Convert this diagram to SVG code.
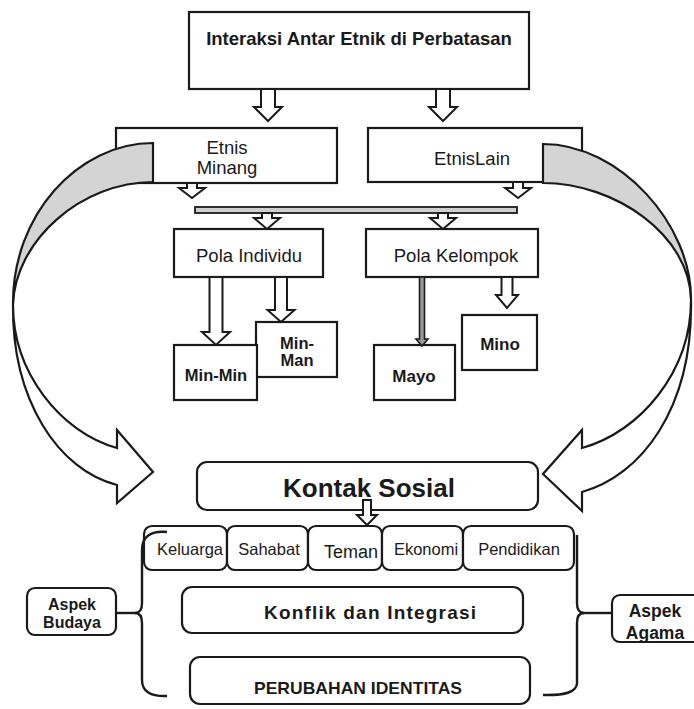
<svg xmlns="http://www.w3.org/2000/svg" width="694" height="709" viewBox="0 0 694 709">
  <style>
    .box { fill: #ffffff; stroke: #1a1a1a; stroke-width: 2.2; }
    .rbox { fill: #ffffff; stroke: #1a1a1a; stroke-width: 2.2; }
    .arr { fill: #ffffff; stroke: #1a1a1a; stroke-width: 2; stroke-linejoin: miter; }
    .thin { fill: #999999; stroke: #1a1a1a; stroke-width: 1.6; }
    .band { fill: #d4d4d4; stroke: #1a1a1a; stroke-width: 2.2; }
    .ribbon { fill: #ffffff; stroke: #1a1a1a; stroke-width: 2.2; stroke-linejoin: miter; }
    .brace { fill: none; stroke: #1a1a1a; stroke-width: 2.4; }
    text { font-family: "Liberation Sans", Arial, sans-serif; fill: #1a1a1a; text-anchor: middle; }
    .t { font-size: 18.5px; }
    .b { font-weight: bold; }
    .tab { font-size: 16.5px; }
  </style>

  <rect width="694" height="709" fill="#ffffff"/>

  <!-- top level -->
  <g id="interaksi">
    <rect class="box" x="189" y="12" width="340" height="77"/>
    <text class="t b" x="359" y="45">Interaksi Antar Etnik di Perbatasan</text>
  </g>

  <g id="etnis-minang">
    <rect class="box" x="116" y="128" width="221" height="55"/>
    <text class="t" x="227" y="154">Etnis</text>
    <text class="t" x="227" y="174">Minang</text>
  </g>

  <g id="etnis-lain">
    <rect class="box" x="368" y="128" width="214" height="54"/>
    <text class="t" x="472" y="165">EtnisLain</text>
  </g>

  <g id="pola-individu">
    <rect class="box" x="174" y="229" width="149" height="48"/>
    <text class="t" x="249" y="262">Pola Individu</text>
  </g>

  <g id="pola-kelompok">
    <rect class="box" x="366" y="229" width="172" height="48"/>
    <text class="t" x="456" y="262">Pola Kelompok</text>
  </g>

  <g id="min-man">
    <rect class="box" x="256" y="322" width="81" height="55"/>
    <text class="b" font-size="16.5" x="297" y="349">Min-</text>
    <text class="b" font-size="16.5" x="297" y="366">Man</text>
  </g>

  <g id="min-min">
    <rect class="box" x="174" y="345" width="83" height="55"/>
    <text class="b" font-size="16.5" x="216" y="381">Min-Min</text>
  </g>

  <g id="mayo">
    <rect class="box" x="374" y="345" width="81" height="55"/>
    <text class="b" font-size="17" x="414" y="382">Mayo</text>
  </g>

  <g id="mino">
    <rect class="box" x="462" y="315" width="75" height="55"/>
    <text class="b" font-size="17" x="500" y="350">Mino</text>
  </g>

  <g id="kontak-sosial">
    <rect class="rbox" x="197" y="462" width="341" height="48" rx="10"/>
    <text class="b" font-size="26" x="369" y="497">Kontak Sosial</text>
  </g>

  <g id="keluarga">
    <rect class="rbox" x="144" y="526" width="83" height="44" rx="8"/>
    <text class="tab" x="190" y="555">Keluarga</text>
  </g>
  <g id="sahabat">
    <rect class="rbox" x="227" y="526" width="81" height="44" rx="8"/>
    <text class="tab" x="269" y="555">Sahabat</text>
  </g>
  <g id="teman">
    <rect class="rbox" x="308" y="526" width="74" height="44" rx="8"/>
    <text font-size="18" x="351" y="558">Teman</text>
  </g>
  <g id="ekonomi">
    <rect class="rbox" x="382" y="526" width="81" height="44" rx="8"/>
    <text class="tab" x="426" y="555">Ekonomi</text>
  </g>
  <g id="pendidikan">
    <rect class="rbox" x="463" y="526" width="111" height="44" rx="8"/>
    <text class="tab" x="519" y="555">Pendidikan</text>
  </g>

  <g id="konflik">
    <rect class="rbox" x="182" y="587" width="341" height="46" rx="10"/>
    <text class="b" font-size="19" x="370" y="619" textLength="212" lengthAdjust="spacing">Konflik dan Integrasi</text>
  </g>

  <g id="perubahan">
    <rect class="rbox" x="190" y="657" width="340" height="47" rx="10"/>
    <text class="b" font-size="17" x="358" y="694" textLength="208" lengthAdjust="spacingAndGlyphs">PERUBAHAN IDENTITAS</text>
  </g>

  <g id="aspek-budaya">
    <rect class="rbox" x="27" y="588" width="89" height="47" rx="8"/>
    <text class="b" font-size="16" x="72" y="610">Aspek</text>
    <text class="b" font-size="16" x="72" y="628">Budaya</text>
  </g>

  <g id="aspek-agama">
    <rect class="rbox" x="612" y="595" width="92" height="47" rx="8"/>
    <text class="b" font-size="17.5" x="655" y="617">Aspek</text>
    <text class="b" font-size="17.5" x="655" y="639">Agama</text>
  </g>

  <!-- connectors -->
  <g id="connectors">
    <!-- curved ribbon arrows from the ethnic groups to social contact -->
    <path class="band" d="M153,143 C78,143 12,215 13,305 C15,240 82,182 153,182 Z"/>
    <path class="ribbon" d="M13,305 C13,372 60,432 117,448 L117,430 L153,472 L117,503 L117,485 C58,470 12,400 13,305 Z"/>
    <path class="band" d="M543,144 C620,144 692,225 691,300 C690,235 615,183 543,183 Z"/>
    <path class="ribbon" d="M691,300 C691,372 640,432 582,448 L582,430 L543,474 L582,511 L582,492 C640,476 693,410 691,300 Z"/>

    <!-- block arrows -->
    <polygon class="arr" points="261,89 275,89 275,107 282,107 268,121 254,107 261,107"/>
    <polygon class="arr" points="436,89 450,89 450,107 457,107 443,121 429,107 436,107"/>
    <polygon class="arr" points="187,183 197,183 197,188 205,188 192,198 179,188 187,188"/>
    <polygon class="arr" points="513,182 523,182 523,188 531,188 518,198 505,188 513,188"/>

    <!-- merging bar -->
    <rect x="195" y="207" width="322" height="6" fill="#cfcfcf" stroke="#1a1a1a" stroke-width="1.8"/>

    <polygon class="arr" points="262,213 272,213 272,218 280,218 267,229 254,218 262,218"/>
    <polygon class="arr" points="438,213 448,213 448,218 456,218 443,229 430,218 438,218"/>

    <polygon class="arr" points="209.5,277 222.5,277 222.5,332 230,332 216,345 202,332 209.5,332"/>
    <polygon class="arr" points="275,277 287,277 287,310 294.5,310 281,322 267.5,310 275,310"/>
    <polygon class="thin" points="419.5,277 424.5,277 424.5,339 428,339 422,346 416,339 419.5,339"/>
    <polygon class="arr" points="501.5,277 512.5,277 512.5,295 518,295 507,308 496,295 501.5,295"/>

    <polygon class="arr" points="363,500 371,500 371,515 377,515 367,525 357,515 363,515"/>

    <!-- braces to the two aspects -->
    <path class="brace" d="M167,532 Q142,530 142,550 L142,603 Q142,613 135,613 Q142,613 142,623 L142,680 Q142,697 167,696"/>
    <line class="brace" x1="116" y1="613" x2="136" y2="613"/>
    <path class="brace" d="M577,535 L577,603 Q577,613 584,613 Q577,613 577,623 L577,683 Q577,696 543,695"/>
    <line class="brace" x1="583" y1="613" x2="612" y2="613"/>
  </g>
</svg>
